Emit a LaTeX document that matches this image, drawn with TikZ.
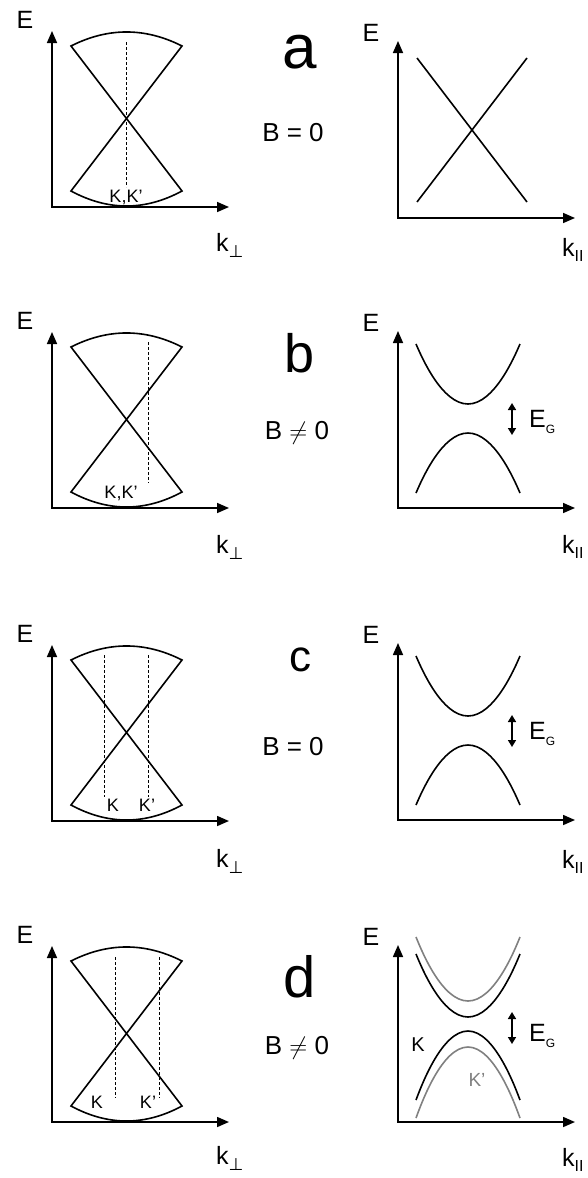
\documentclass[tikz,border=0pt]{standalone}
\usepackage{fontspec}
\setmainfont{Liberation Sans}
\newfontfamily\symfont{DejaVu Sans}
\usetikzlibrary{arrows.meta}
\definecolor{bandgray}{RGB}{128,128,128}
\newcommand\fs[1]{\fontsize{#1}{#1}\selectfont}
\begin{document}
\begin{tikzpicture}[x=1pt,y=-1pt,
  axes/.style={line width=1.6pt,{Triangle[length=12pt,width=10pt]}-{Triangle[length=12pt,width=10pt]}},
  band/.style={line width=1.6pt},
  grayband/.style={line width=1.6pt,draw=bandgray},
  dashline/.style={line width=1pt,dash pattern=on 3pt off 2pt},
  gaparrow/.style={line width=1.6pt,{Triangle[length=7pt,width=8pt]}-{Triangle[length=7pt,width=8pt]}},
  lbl/.style={inner sep=0pt,font=\fs{25}},
  small/.style={inner sep=0pt,font=\fs{18}},
  big/.style={inner sep=0pt},
  bfield/.style={inner sep=0pt,font=\fs{26}}]
\useasboundingbox (0,0) rectangle (588,1178);

% ---------- left panels (cones) ----------
\foreach \n/\yy/\ky in {a/207/38,b/508/39,c/821/40,d/1122/36}{
\begin{scope}[shift={(0,\yy)}]
  \coordinate (L\n o) at (52,0);
  \coordinate (L\n y) at (52,-176);
  \coordinate (L\n x) at (229,0);
  \draw[axes] (L\n y) -- (L\n o) -- (L\n x);
  \draw[band] (71,-161) .. controls (108,-179.7) and (145,-179.7) .. (182,-161)
     -- (71,-16) .. controls (108,4) and (145,4) .. (182,-16) -- cycle;
  \node[lbl] (LE\n) at (25,-187) {E};
  \node[lbl,anchor=west] (Lk\n) at (216,\ky) {k\raisebox{-6pt}{\fs{17}\symfont ⊥}};
\end{scope}
}
% dashed lines and K labels
\begin{scope}[shift={(0,207)}]
  \coordinate (da1) at (126,-165); \coordinate (da2) at (126,-20);
  \draw[dashline] (da1) -- (da2);
  \node[small] (Ka) at (126,-10) {K,K'};
\end{scope}
\begin{scope}[shift={(0,508)}]
  \coordinate (db1) at (148,-166); \coordinate (db2) at (148,-25);
  \draw[dashline] (db1) -- (db2);
  \node[small] (Kb) at (121,-15) {K,K'};
\end{scope}
\begin{scope}[shift={(0,821)}]
  \coordinate (dc1) at (104,-166); \coordinate (dc2) at (104,-24);
  \coordinate (dc3) at (148,-166); \coordinate (dc4) at (148,-24);
  \draw[dashline] (dc1) -- (dc2);
  \draw[dashline] (dc3) -- (dc4);
  \node[small] (Kc1) at (113,-16) {K};
  \node[small] (Kc2) at (147,-16) {K'};
\end{scope}
\begin{scope}[shift={(0,1122)}]
  \coordinate (dd1) at (115,-165); \coordinate (dd2) at (115,-24);
  \coordinate (dd3) at (159,-165); \coordinate (dd4) at (159,-24);
  \draw[dashline] (dd1) -- (dd2);
  \draw[dashline] (dd3) -- (dd4);
  \node[small] (Kd1) at (97,-20) {K};
  \node[small] (Kd2) at (148,-20) {K'};
\end{scope}

% ---------- middle labels ----------
\node[big,font=\fs{62}] (la) at (300,52) {a};
\node[bfield] (Ba) at (293,133) {B = 0};
\node[big,font=\fs{54}] (lb) at (300,353) {b};
\node[bfield] (Bb) at (297,433) {B $\neq$ 0};
\node[big,font=\fs{44}] (lc) at (300,660) {c};
\node[bfield] (Bc) at (293,747) {B = 0};
\node[big,font=\fs{58}] (ld) at (300,977) {d};
\node[bfield] (Bd) at (297,1048) {B $\neq$ 0};

% ---------- right panels ----------
\foreach \n/\yy/\ky in {a/218/32,b/508/39,c/820/42,d/1122/38}{
\begin{scope}[shift={(0,\yy)}]
  \coordinate (R\n o) at (398,0);
  \coordinate (R\n y) at (398,-177);
  \coordinate (R\n x) at (575,0);
  \draw[axes] (R\n y) -- (R\n o) -- (R\n x);
  \node[lbl] (RE\n) at (371,-185) {E};
  \node[lbl,anchor=west] (Rk\n) at (562,\ky) {k\raisebox{-5pt}{\fs{16}II}};
\end{scope}
}
% a: linear crossing
\begin{scope}[shift={(0,218)}]
  \coordinate (xa1) at (417,-160); \coordinate (xa2) at (527,-16);
  \coordinate (xa3) at (417,-16); \coordinate (xa4) at (527,-160);
  \draw[band] (xa1) -- (xa2);
  \draw[band] (xa3) -- (xa4);
\end{scope}
% b and c: gapped bands
\foreach \n/\yy in {b/508,c/820}{
\begin{scope}[shift={(0,\yy)}]
  \draw[band] (416,-164) parabola bend (468,-104) (520,-164);
  \draw[band] (416,-15) parabola bend (468,-75) (520,-15);
  \coordinate (g\n1) at (512,-105); \coordinate (g\n2) at (512,-73);
  \draw[gaparrow] (g\n1) -- (g\n2);
  \node[lbl,anchor=west] (EG\n) at (529,-86) {E\raisebox{-6pt}{\fs{12}G}};
\end{scope}
}
% d: split bands
\begin{scope}[shift={(0,1122)}]
  \draw[grayband] (416,-185) parabola bend (468,-121) (520,-185);
  \draw[band] (416,-168) parabola bend (468,-105) (520,-168);
  \draw[band] (416,-22) parabola bend (468,-91) (520,-22);
  \draw[grayband] (416,-4) parabola bend (468,-75) (520,-4);
  \coordinate (gd1) at (512,-110); \coordinate (gd2) at (512,-78);
  \draw[gaparrow] (gd1) -- (gd2);
  \node[lbl,anchor=west] (EGd) at (529,-86) {E\raisebox{-6pt}{\fs{12}G}};
  \node[small,font=\fs{20}] (Kd) at (418,-77) {K};
  \node[small,font=\fs{19},text=bandgray] (Kdp) at (477,-42) {K'};
\end{scope}
\end{tikzpicture}
\end{document}
